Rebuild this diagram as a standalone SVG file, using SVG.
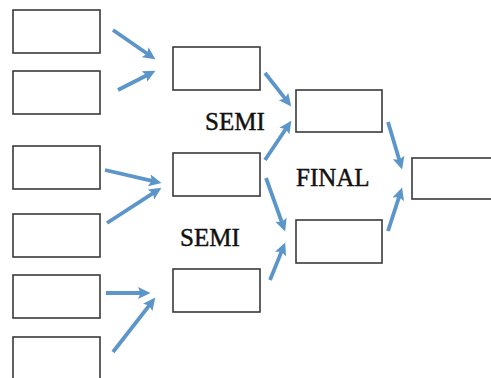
<svg xmlns="http://www.w3.org/2000/svg" width="491" height="378" viewBox="0 0 491 378">
<style>
.box{fill:#fff;stroke:#3a3a3a;stroke-width:1.6}
.arr{stroke:#5b95c9;stroke-width:3.8;fill:none;marker-end:url(#ah)}
.lbl{font-family:"Liberation Serif",serif;font-size:25px;fill:#111;stroke:#111;stroke-width:0.45}
</style>
<defs>
<marker id="ah" markerUnits="userSpaceOnUse" markerWidth="15" markerHeight="13" refX="4" refY="6" orient="auto">
<path d="M0,0 L12.5,6 L0,12 L2.5,6 z" fill="#5b95c9"/>
</marker>
</defs>
<rect width="491" height="378" fill="#fff"/>
<g id="r1-1"><rect class="box" x="13" y="10" width="87" height="43"/></g>
<g id="r1-2"><rect class="box" x="13" y="71" width="87" height="43"/></g>
<g id="r1-3"><rect class="box" x="13" y="146" width="87" height="43"/></g>
<g id="r1-4"><rect class="box" x="13" y="214" width="87" height="43"/></g>
<g id="r1-5"><rect class="box" x="13" y="275" width="87" height="43"/></g>
<g id="r1-6"><rect class="box" x="13" y="337" width="87" height="45"/></g>
<g id="r2-1"><rect class="box" x="173" y="47" width="87" height="43"/></g>
<g id="r2-2"><rect class="box" x="173" y="153" width="87" height="43"/></g>
<g id="r2-3"><rect class="box" x="173" y="269" width="87" height="43"/></g>
<g id="r3-1"><rect class="box" x="296" y="90" width="86" height="42"/></g>
<g id="r3-2"><rect class="box" x="296" y="220" width="86" height="43"/></g>
<g id="winner"><rect class="box" x="412" y="158" width="84" height="41"/></g>
<g id="labels">
<text class="lbl" x="205" y="130">SEMI</text>
<text class="lbl" x="180" y="246">SEMI</text>
<text class="lbl" x="296" y="186">FINAL</text>
</g>
<g id="connectors">
<line class="arr" x1="113" y1="30" x2="148.4" y2="54.5"/>
<line class="arr" x1="118" y1="90" x2="147.9" y2="74.7"/>
<line class="arr" x1="105" y1="170" x2="153.2" y2="181.2"/>
<line class="arr" x1="107" y1="223" x2="154.3" y2="192.4"/>
<line class="arr" x1="106" y1="293" x2="142" y2="293"/>
<line class="arr" x1="113" y1="352" x2="150.1" y2="304.3"/>
<line class="arr" x1="265" y1="73" x2="286" y2="99.7"/>
<line class="arr" x1="265" y1="160" x2="286.6" y2="127.7"/>
<line class="arr" x1="266" y1="178" x2="282.3" y2="223.5"/>
<line class="arr" x1="270" y1="280" x2="282" y2="250.4"/>
<line class="arr" x1="388" y1="122" x2="399.7" y2="161.3"/>
<line class="arr" x1="388" y1="231" x2="399.5" y2="195.6"/>
</g>
</svg>
